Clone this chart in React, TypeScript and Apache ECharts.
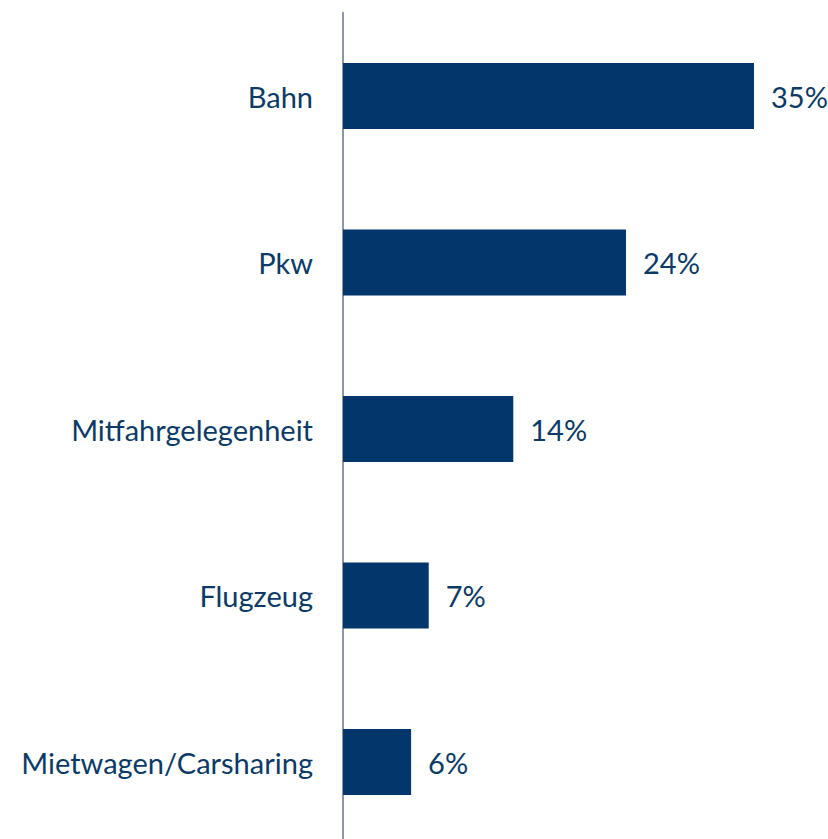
import React, { useEffect, useRef } from "react";
import * as echarts from "echarts";

const categories = ["Bahn", "Pkw", "Mitfahrgelegenheit", "Flugzeug", "Mietwagen/Carsharing"];
const values = [35, 24.1, 14.5, 7.3, 5.8];
const labels = ["35%", "24%", "14%", "7%", "6%"];

export default function App() {
  const ref = useRef<HTMLDivElement>(null);
  useEffect(() => {
    if (!ref.current) return;
    const chart = echarts.init(ref.current, null, { renderer: "svg" });
    chart.setOption({
      animation: false,
      grid: { left: 343, top: 12.75, height: 832.5, width: 411, outerBoundsMode: "none", containLabel: false },
      xAxis: {
        type: "value",
        min: 0,
        max: 35,
        show: false,
      },
      yAxis: {
        type: "category",
        inverse: true,
        data: categories,
        axisLine: { show: true, lineStyle: { color: "#8E96A8", width: 2 } },
        axisTick: { show: false },
        axisLabel: {
          margin: 30,
          color: "#0B3A66",
          fontFamily: "Lato",
          fontSize: 29,
        },
      },
      series: [
        {
          type: "bar",
          data: values,
          barWidth: 66,
          itemStyle: { color: "#03366A" },
          label: {
            show: true,
            position: "right",
            distance: 17,
            color: "#0B3A66",
            fontFamily: "Lato",
            fontSize: 29,
            formatter: (p: any) => labels[p.dataIndex],
          },
        },
      ],
    });
    return () => chart.dispose();
  }, []);
  return (
    <div
      ref={ref}
      style={{ position: "absolute", left: 0, top: 0, width: 828, height: 839, background: "#fff" }}
    />
  );
}
